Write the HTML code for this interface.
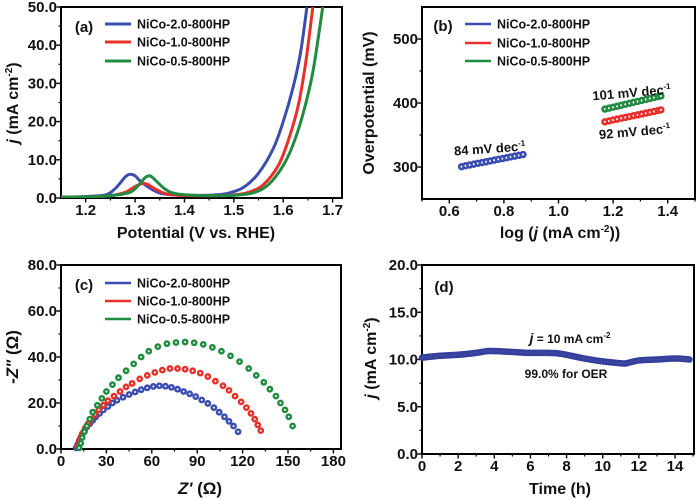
<!DOCTYPE html>
<html><head><meta charset="utf-8"><style>
html,body{margin:0;padding:0;background:#fff;}
svg{display:block;font-family:"Liberation Sans",Arial,sans-serif;}
</style></head><body>
<svg id="fig" width="700" height="500" viewBox="0 0 700 500"></svg>
<script>
// ---------- Panel (a) LSV data ----------
const aBlueX = [1.15,1.2,1.24,1.26,1.28,1.29,1.30,1.31,1.33,1.35,1.38,1.42,1.46,1.49,1.52,1.55,1.58,1.60,1.62,1.635,1.648];
const aBlueY = [0.2,0.4,0.8,2.5,5.5,6.2,5.8,4.5,2.6,1.3,0.8,0.7,0.8,1.3,2.8,6.5,13,20,29,38,50];
const aRedX = [1.15,1.2,1.25,1.28,1.30,1.315,1.325,1.34,1.36,1.38,1.42,1.46,1.5,1.53,1.56,1.59,1.61,1.63,1.645,1.66];
const aRedY = [0.2,0.3,0.6,1.5,3.0,3.8,3.6,2.4,1.2,0.8,0.6,0.6,0.8,1.5,3.5,8.5,15,24,35,50];
const aGreenX = [1.15,1.2,1.25,1.29,1.31,1.32,1.33,1.34,1.36,1.38,1.42,1.46,1.5,1.54,1.57,1.60,1.62,1.64,1.66,1.68];
const aGreenY = [0.2,0.3,0.6,1.5,3.8,5.3,5.8,4.8,2.4,1.2,0.7,0.6,0.7,1.4,3.5,8.5,14,22,33,50];
// ---------- Panel (b) Tafel data ----------
const bBlueX = [0.645,0.66,0.675,0.69,0.705,0.72,0.735,0.75,0.765,0.78,0.795,0.81,0.825,0.84,0.855,0.87];
const bBlueY = [300.5,302,303.2,304.5,305.8,307,308.2,309.5,310.8,312,313.2,314.5,315.8,317,318.2,319.5];
const bRedX = [1.17,1.185,1.2,1.215,1.23,1.245,1.26,1.275,1.29,1.305,1.32,1.335,1.35,1.365,1.375];
const bRedY = [370.5,372,373.5,374.8,376.2,377.5,378.8,380.2,381.5,382.8,384.2,385.5,386.8,388.2,389.2];
const bGreenX = [1.17,1.185,1.2,1.215,1.23,1.245,1.26,1.275,1.29,1.305,1.32,1.335,1.35,1.365,1.375];
const bGreenY = [390.5,392,393.5,395,396.5,398,399.5,401,402.5,404,405.5,407,408.5,410,411];
// ---------- Panel (c) Nyquist data ----------
const cBlueX = [10,11,12,13,14,15.5,17,19,21,23,25.5,28,31,34,37,41,45,49,53,57,61,65,69,73,77,81,85,89,93,97,101,104.5,108,111,114,117];
const cBlueY = [0.5,2,3.5,5,6.5,8,9.5,11,12.5,14,15.5,17,18.5,20,21.2,22.5,23.7,24.8,25.8,26.6,27.2,27.5,27.3,26.8,26,25,24,22.8,21.3,19.8,18,16,14,12,10,7.5];
const cRedX = [11,12,13,14.5,16,18,20,22.5,25,28,31,35,39,43,47,52,57,62,67,72,77,82,87,92,97,102,107,111,115,119,122.5,125.5,128,130,132];
const cRedY = [1,3,5,7,9,11,13,15,17,19,21,23,25,27,28.5,30.5,32,33.3,34.3,35,35,34.7,34,33,31.5,29.5,27.5,25.5,23,20.5,18,15.5,13,10.5,8];
const cGreenX = [12,13,14,15.5,17,19,21,24,27,30,34,38,43,48,53,58,64,70,76,82,88,94,100,106,112,118,124,129,134,138,142,145,148,150.5,153];
const cGreenY = [0.5,2.5,5,7.5,10,13,16,19,22,25,28,31,34,37,40,42.5,44.5,45.8,46.3,46.5,46.2,45.5,44.2,42.5,40.5,38,35,32,29,26,23,20,17,14,10];
// ---------- Panel (d) stability data ----------
const dTime = [0,0.5,1,2,3,3.7,4.5,5,6,7,7.5,8,9,10,10.5,11,11.3,12,13,14,14.8];
const dJ = [10.2,10.3,10.4,10.5,10.7,10.9,10.85,10.8,10.7,10.7,10.65,10.5,10.1,9.8,9.7,9.6,9.6,9.9,10.0,10.1,10.0];

const C = {blue:'#3a4db0', red:'#e8302a', green:'#1f8c3f'};
const NS = 'http://www.w3.org/2000/svg';
const svg = document.getElementById('fig');
function mk(tag, attrs, parent){
  const e = document.createElementNS(NS, tag);
  for (const k in attrs) e.setAttribute(k, attrs[k]);
  (parent||svg).appendChild(e);
  return e;
}
function txt(s, x, y, size, parent, anchor, extra){
  const t = mk('text', Object.assign({x:x, y:y, 'font-size':size, 'font-weight':'bold', 'text-anchor':anchor||'middle', fill:'#111'}, extra||{}), parent);
  t.innerHTML = s;
  return t;
}
function panel(id, box, xd, yd, xt, xm, yt, ym, xfmt, yfmt){
  const g = mk('g', {});
  
  
  const sx = v => box.x0 + (v - xd[0]) / (xd[1] - xd[0]) * (box.x1 - box.x0);
  const sy = v => box.y1 - (v - yd[0]) / (yd[1] - yd[0]) * (box.y1 - box.y0);
  const ax = mk('g', {}, g);
  
  
  xm.forEach(v => mk('line', {x1:sx(v), x2:sx(v), y1:box.y1, y2:box.y1+2.5, stroke:'#000','stroke-width':1.2}, ax));
  xt.forEach(v => {
    mk('line', {x1:sx(v), x2:sx(v), y1:box.y1, y2:box.y1+4.5, stroke:'#000','stroke-width':1.4}, ax);
    const t = txt(xfmt(v), sx(v), box.y1+17, 15, ax, 'middle', {'font-weight':'bold'});
    
    
  });
  ym.forEach(v => mk('line', {x1:box.x0-2.5, x2:box.x0, y1:sy(v), y2:sy(v), stroke:'#000','stroke-width':1.2}, ax));
  yt.forEach(v => {
    mk('line', {x1:box.x0-4.5, x2:box.x0, y1:sy(v), y2:sy(v), stroke:'#000','stroke-width':1.4}, ax);
    const t = txt(yfmt(v), box.x0-4, sy(v)+5, 15, ax, 'end', {'font-weight':'bold'});
    
    
  });
  mk('rect', {x:box.x0, y:box.y0, width:box.x1-box.x0, height:box.y1-box.y0, fill:'none', stroke:'#000', 'stroke-width':2}, ax);
  return {g, sx, sy};
}
function smoothPath(xs, ys, sx, sy){
  const p = xs.map((x,i)=>[sx(x), sy(ys[i])]);
  let d = 'M' + p[0][0] + ',' + p[0][1];
  for (let i=0;i<p.length-1;i++){
    const p0 = p[i-1]||p[i], p1=p[i], p2=p[i+1], p3=p[i+2]||p2;
    const c1 = [p1[0]+(p2[0]-p0[0])/6, p1[1]+(p2[1]-p0[1])/6];
    const c2 = [p2[0]-(p3[0]-p1[0])/6, p2[1]-(p3[1]-p1[1])/6];
    d += 'C'+c1[0]+','+c1[1]+' '+c2[0]+','+c2[1]+' '+p2[0]+','+p2[1];
  }
  return d;
}
function legend(g, x, ys, labels, colors, w){
  labels.forEach((l,i)=>{
    const le = mk('g', {}, g);
    
    
    mk('line', {x1:x, x2:x+26, y1:ys[i], y2:ys[i], stroke:colors[i], 'stroke-width':w}, le);
    txt(l, x+32, ys[i]+4.5, 12.5, le, 'start');
  });
}
const names = ['NiCo-2.0-800HP','NiCo-1.0-800HP','NiCo-0.5-800HP'];
const cols = [C.blue, C.red, C.green];

// ---------- (a) ----------
(function(){
  const P = panel('a', {x0:61,x1:342,y0:7,y1:198}, [1.15,1.719], [0,50],
    [1.2,1.3,1.4,1.5,1.6,1.7], [1.25,1.35,1.45,1.55,1.65], [0,10,20,30,40,50], [5,15,25,35,45],
    v=>v.toFixed(1), v=>v.toFixed(1));
  const cl = mk('clipPath', {id:'clipA'}, P.g); mk('rect', {x:61,y:7,width:281,height:191}, cl);
  const sg = mk('g', {'clip-path':'url(#clipA)'}, P.g);
  [[aBlueX,aBlueY,C.blue,'blue'],[aRedX,aRedY,C.red,'red'],[aGreenX,aGreenY,C.green,'green']].forEach(s=>{
    const p = mk('path', {d:smoothPath(s[0],s[1],P.sx,P.sy), fill:'none', stroke:s[2], 'stroke-width':3}, sg);
    
    
  });
  const l = txt('(a)', 84, 32, 15, P.g);  
  legend(P.g, 105, [24,42,61], names, cols, 3);
  const xt = txt('Potential (V vs. RHE)', 196, 238, 16, P.g);  
  const yt = txt('<tspan font-style="italic">j</tspan> (mA cm<tspan font-size="10" dy="-6">-2</tspan><tspan dy="6">)</tspan>', 0, 0, 16, P.g, 'middle', {transform:'translate(18,103) rotate(-90)'});
   
})();

// ---------- (b) ----------
(function(){
  const P = panel('b', {x0:422,x1:695,y0:7,y1:199}, [0.5,1.5], [250,550],
    [0.6,0.8,1.0,1.2,1.4], [0.5,0.7,0.9,1.1,1.3,1.5], [300,400,500], [350,450],
    v=>v.toFixed(1), v=>String(v));
  [[bBlueX,bBlueY,C.blue,'blue'],[bRedX,bRedY,C.red,'red'],[bGreenX,bGreenY,C.green,'green']].forEach(s=>{
    const sg = mk('g', {}, P.g);
    
    
    s[0].forEach((x,i)=>{
      mk('circle', {cx:P.sx(x), cy:P.sy(s[1][i]), r:3.7, fill:s[2]}, sg);
      mk('circle', {cx:P.sx(x), cy:P.sy(s[1][i]), r:1.1, fill:'#fff'}, sg);
    });
  });
  const l = txt('(b)', 443, 31, 15, P.g);  
  legend(P.g, 465, [24,43,61], names, cols, 2.5);
  const t1 = txt('84 mV dec<tspan font-size="8" dy="-5">-1</tspan>', 490, 153, 13, P.g, 'middle', {transform:'rotate(-4 490 153)'});
   
  const t2 = txt('101 mV dec<tspan font-size="8" dy="-5">-1</tspan>', 632, 97, 13, P.g, 'middle', {transform:'rotate(-5 632 97)'});
   
  const t3 = txt('92 mV dec<tspan font-size="8" dy="-5">-1</tspan>', 635, 136, 13, P.g, 'middle', {transform:'rotate(-5 635 136)'});
   
  const xt = txt('log (<tspan font-style="italic">j</tspan> (mA cm<tspan font-size="10" dy="-6">-2</tspan><tspan dy="6">))</tspan>', 560, 238, 16, P.g);
   
  const yt = txt('Overpotential (mV)', 0, 0, 16, P.g, 'middle', {transform:'translate(374,103) rotate(-90)'});
   
})();

// ---------- (c) ----------
(function(){
  const P = panel('c', {x0:61,x1:341,y0:265,y1:449}, [0,185], [0,80],
    [0,30,60,90,120,150,180], [15,45,75,105,135,165], [0,20,40,60,80], [10,30,50,70],
    v=>String(v), v=>v.toFixed(1));
  [[cBlueX,cBlueY,C.blue,'blue'],[cRedX,cRedY,C.red,'red'],[cGreenX,cGreenY,C.green,'green']].forEach(s=>{
    const sg = mk('g', {}, P.g);
    
    
    s[0].forEach((x,i)=>{
      mk('circle', {cx:P.sx(x), cy:P.sy(s[1][i]), r:3.4, fill:s[2]}, sg);
      mk('circle', {cx:P.sx(x), cy:P.sy(s[1][i]), r:1, fill:'#fff'}, sg);
    });
  });
  const l = txt('(c)', 84, 290, 15, P.g);  
  legend(P.g, 105, [283,301,319], names, cols, 2.5);
  const xt = txt('<tspan font-style="italic">Z\'</tspan> (Ω)', 200, 494, 17, P.g);
   
  const yt = txt('-<tspan font-style="italic">Z"</tspan> (Ω)', 0, 0, 17, P.g, 'middle', {transform:'translate(18,357) rotate(-90)'});
   
})();

// ---------- (d) ----------
(function(){
  const P = panel('d', {x0:422,x1:694,y0:265,y1:454}, [0,15.05], [0,20],
    [0,2,4,6,8,10,12,14], [1,3,5,7,9,11,13,15], [0,5,10,15,20], [2.5,7.5,12.5,17.5],
    v=>String(v), v=>v.toFixed(1));
  const p = mk('path', {d:smoothPath(dTime,dJ,P.sx,P.sy), fill:'none', stroke:'#34409c', 'stroke-width':6.5, 'stroke-linecap':'round'}, P.g);
  
  
  mk('path', {d:smoothPath(dTime,dJ,P.sx,P.sy), fill:'none', stroke:'#6a78c8', 'stroke-width':1, 'stroke-dasharray':'1 2', opacity:0.6}, P.g);
  const l = txt('(d)', 444, 292, 15, P.g);  
  const a1 = txt('<tspan font-style="italic" font-size="14">j</tspan> = 10 mA cm<tspan font-size="8" dy="-5">-2</tspan>', 570, 343, 12, P.g);
   
  const a2 = txt('99.0% for OER', 566, 378, 12, P.g);
   
  const xt = txt('Time (h)', 560, 494, 16, P.g);
   
  const yt = txt('<tspan font-style="italic">j</tspan> (mA cm<tspan font-size="10" dy="-6">-2</tspan><tspan dy="6">)</tspan>', 0, 0, 16, P.g, 'middle', {transform:'translate(376,358) rotate(-90)'});
   
})();
</script>
</body></html>
